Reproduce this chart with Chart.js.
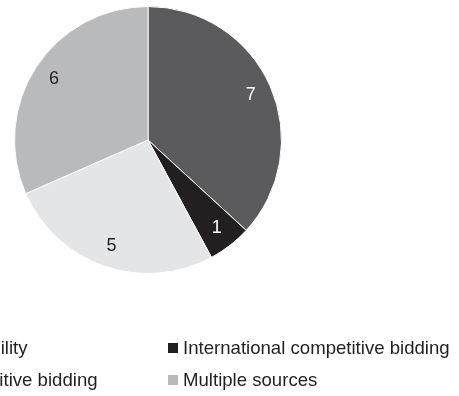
<!DOCTYPE html>
<html>
<head>
<meta charset="utf-8">
<script src="https://cdn.jsdelivr.net/npm/chart.js@4/dist/chart.umd.min.js"></script>
<style>
  html, body { margin: 0; padding: 0; background: #fff; overflow: hidden; }
  #wrap { position: relative; width: 459px; height: 396px; overflow: hidden; }
  canvas { position: absolute; left: 0; top: 0; }
  #legend { position: absolute; left: 0; top: 0; width: 459px; height: 396px; font-family: "Liberation Sans", Arial, sans-serif; font-size: 18.6px; color: #231f20; }
  .item { position: absolute; white-space: nowrap; line-height: 22px; }
  .sw { display: inline-block; width: 10px; height: 10px; margin-right: 5px; vertical-align: 1px; }
</style>
</head>
<body>
<div id="wrap">
  <canvas id="c" width="459" height="396"></canvas>
  <div id="legend"></div>
</div>
<script>
const categories = ["Unified responsibility", "International competitive bidding", "National competitive bidding", "Multiple sources"];
const values = [7, 1, 5, 6];
const colors = ["#5b5b5d", "#231f20", "#e4e5e7", "#b9babc"];
const labelColors = ["#ffffff", "#ffffff", "#231f20", "#231f20"];

const labelPlugin = {
  id: 'sliceLabels',
  afterDatasetsDraw(chart) {
    const ctx = chart.ctx;
    const meta = chart.getDatasetMeta(0);
    ctx.save();
    ctx.font = '18px "Liberation Sans", Arial, sans-serif';
    ctx.textAlign = 'center';
    ctx.textBaseline = 'middle';
    meta.data.forEach((arc, i) => {
      const p = arc.getProps(['x', 'y', 'startAngle', 'endAngle', 'outerRadius'], true);
      const mid = (p.startAngle + p.endAngle) / 2;
      const r = p.outerRadius * 0.84;
      ctx.fillStyle = labelColors[i];
      ctx.fillText(String(chart.data.datasets[0].data[i]), p.x + Math.cos(mid) * r, p.y + Math.sin(mid) * r);
    });
    ctx.restore();
  }
};

new Chart(document.getElementById('c'), {
  type: 'pie',
  data: {
    labels: categories,
    datasets: [{
      data: values,
      backgroundColor: colors,
      borderColor: '#ffffff',
      borderWidth: 1
    }]
  },
  options: {
    responsive: false,
    animation: false,
    layout: { padding: { left: 14, top: 6, right: 177, bottom: 122 } },
    plugins: { legend: { display: false }, tooltip: { enabled: false } }
  },
  plugins: [labelPlugin]
});

// HTML legend, two columns; the first column runs off the left edge as in the reference
const legend = document.getElementById('legend');
const col2x = 168;
const rows = [337, 369];
const order = [[0, -158, rows[0]], [1, col2x, rows[0]], [2, -150, rows[1]], [3, col2x, rows[1]]];
order.forEach(([i, x, y]) => {
  const d = document.createElement('div');
  d.className = 'item';
  d.style.left = x + 'px';
  d.style.top = y + 'px';
  const sw = document.createElement('span');
  sw.className = 'sw';
  sw.style.background = colors[i];
  d.appendChild(sw);
  d.appendChild(document.createTextNode(categories[i]));
  legend.appendChild(d);
});
</script>
</body>
</html>
